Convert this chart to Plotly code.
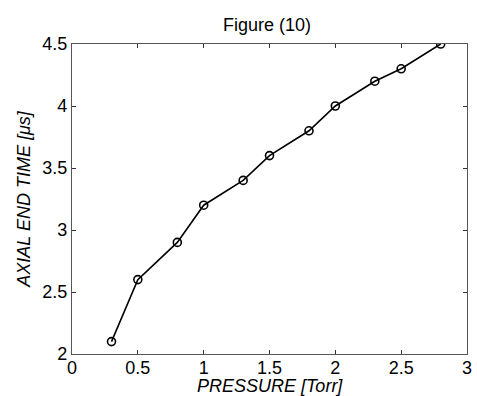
import plotly.graph_objects as go

# Pressure (Torr) vs. axial end time (microseconds)
pressure = [0.3, 0.5, 0.8, 1.0, 1.3, 1.5, 1.8, 2.0, 2.3, 2.5, 2.8]
axial_end_time = [2.1, 2.6, 2.9, 3.2, 3.4, 3.6, 3.8, 4.0, 4.2, 4.3, 4.5]

x_ticks = [0, 0.5, 1, 1.5, 2, 2.5, 3]
x_tick_text = ["0", "0.5", "1", "1.5", "2", "2.5", "3"]
y_ticks = [2, 2.5, 3, 3.5, 4, 4.5]
y_tick_text = ["2", "2.5", "3", "3.5", "4", "4.5"]

font_family = "Liberation Sans, Arial, sans-serif"

W, H = 477, 396
M_L, M_R, M_T, M_B = 72, 5, 44, 42
plot_h = H - M_T - M_B

fig = go.Figure()
fig.add_trace(go.Scatter(
    x=pressure,
    y=axial_end_time,
    mode="lines+markers",
    line=dict(color="black", width=1.6),
    marker=dict(symbol="circle-open", size=8, color="black", line=dict(width=1.6)),
    showlegend=False,
))

axis_common = dict(
    showgrid=False,
    zeroline=False,
    showline=True,
    linecolor="#555555",
    linewidth=1.2,
    mirror="ticks",
    ticks="inside",
    ticklen=4,
    tickwidth=1,
    tickcolor="#333333",
    ticklabeloverflow="allow",
    tickfont=dict(family=font_family, size=18, color="black"),
)

fig.update_layout(
    width=W,
    height=H,
    margin=dict(l=M_L, r=M_R, t=M_T, b=M_B),
    paper_bgcolor="white",
    plot_bgcolor="white",
    title=dict(
        text="Figure (10)",
        x=267 / W,
        xanchor="center",
        y=1 - 25 / H,
        yanchor="middle",
        font=dict(family=font_family, size=18, color="black"),
    ),
    xaxis=dict(
        range=[0, 3],
        tickvals=x_ticks,
        ticktext=x_tick_text,
        ticklabelstandoff=-3,
        **axis_common,
    ),
    yaxis=dict(
        range=[2, 4.5],
        tickvals=y_ticks,
        ticktext=y_tick_text,
        title=dict(
            text="<i>AXIAL END TIME [μs]</i>",
            font=dict(family=font_family, size=18, color="black"),
            standoff=6,
        ),
        **axis_common,
    ),
)

# x-axis title placed just below the tick labels
fig.add_annotation(
    text="<i>PRESSURE [Torr]</i>",
    xref="paper", yref="paper",
    x=0.5, y=-(386 - (H - M_B)) / plot_h,
    xanchor="center", yanchor="middle",
    showarrow=False,
    font=dict(family=font_family, size=18, color="black"),
)

fig.write_html("out.html")
